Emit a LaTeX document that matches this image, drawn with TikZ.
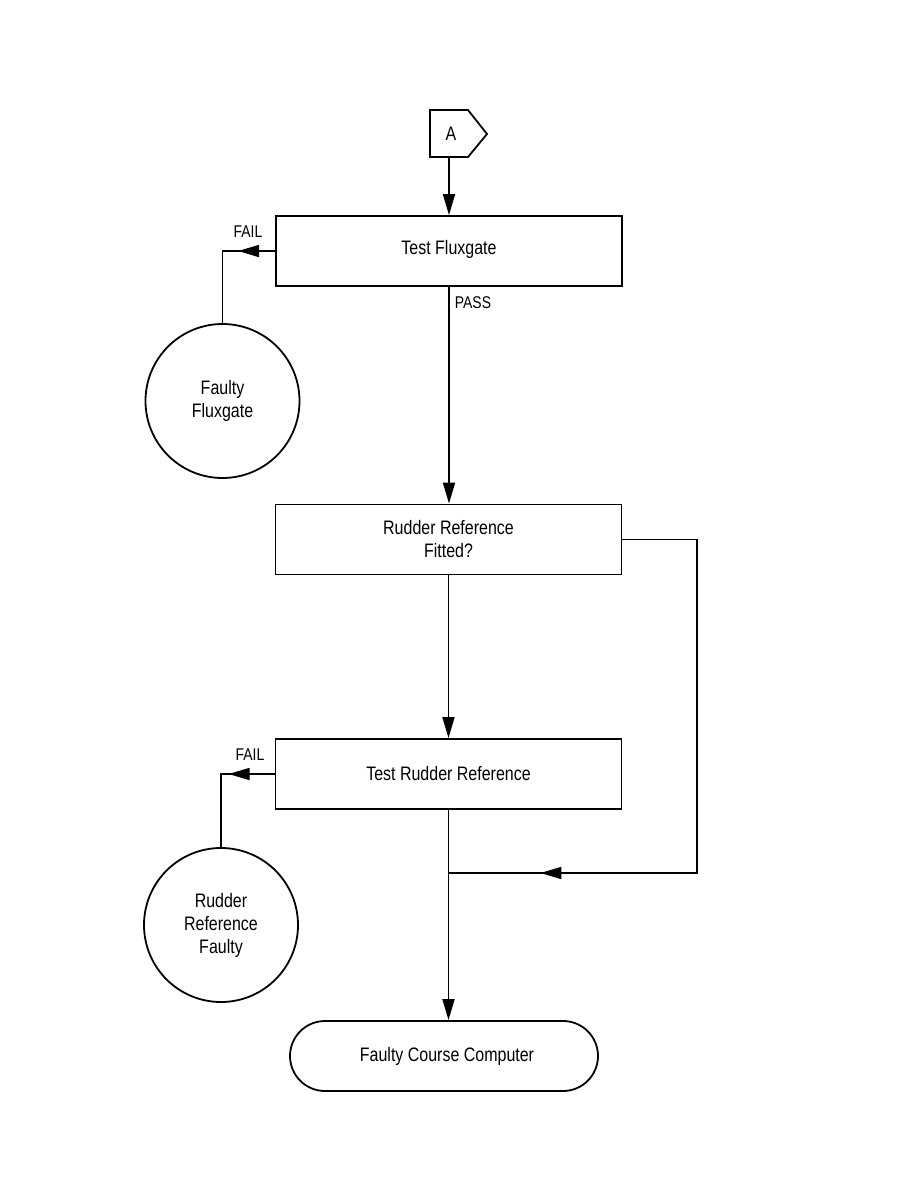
\documentclass[tikz,border=0pt]{standalone}
\usepackage{fontspec}
\setmainfont{Liberation Sans}[FakeStretch=0.82]
\usetikzlibrary{arrows.meta,decorations.markings,calc}
\begin{document}
\begin{tikzpicture}[x=1pt,y=-1pt,
  line width=1.8pt,
  every node/.style={font=\fontsize{19.5}{23}\selectfont},
  tip/.style={-{Triangle[length=21pt,width=12pt]}},
  box/.style={draw,rectangle,minimum width=346pt,minimum height=70pt,align=center,inner sep=0pt},
  endcircle/.style={draw,circle,minimum size=154pt,align=center,inner sep=0pt},
  term/.style={draw,rectangle,rounded corners=35pt,minimum width=308pt,minimum height=70pt,inner sep=0pt},
  lbl/.style={font=\fontsize{17}{18}\selectfont,inner sep=0pt},
  midarrow/.style={postaction={decorate},decoration={markings,mark=at position #1 with {\arrow{Triangle[length=21pt,width=12pt]}}}}
]
\useasboundingbox (0,0) rectangle (918,1188);

% off-page connector A
\node[inner sep=0pt] (a) at (451,134) {A};
\draw (430,110) -- (468,110) -- (487,134) -- (468,157) -- (430,157) -- cycle;
\coordinate (abot) at (449,157);

\node[box] (tf) at (449,251) {\raisebox{8pt}{Test Fluxgate}};
\node[endcircle] (ff) at (222.5,401) {Faulty\\Fluxgate};
\node[box] (rf) at (448.5,539.5) {Rudder Reference\\Fitted?};
\node[box] (tr) at (448.5,774) {Test Rudder Reference};
\node[endcircle] (rr) at (221,925) {Rudder\\Reference\\Faulty};
\node[term] (fc) at (444,1056) {\hspace*{6pt}Faulty Course Computer};

\coordinate (rc) at (697,873);
\coordinate (m) at (tr.south |- rc);

\draw[tip] (abot) -- (abot |- tf.north);
\draw[midarrow=37pt] (tf.west) -- (tf.west -| ff.north) -- (ff.north);
\node[lbl] (fail1) at (248,232) {FAIL};
\draw[tip] (tf.south) -- (tf.south |- rf.north);
\node[lbl] (pass) at (473,303) {PASS};
\draw[tip] (rf.south) -- (rf.south |- tr.north);
\draw[midarrow=46pt] (tr.west) -- (tr.west -| rr.north) -- (rr.north);
\node[lbl] (fail2) at (250,755) {FAIL};
\draw[tip] (tr.south) -- (tr.south |- fc.north);
\draw[midarrow={0.86}] (rf.east) -| (rc) -- (m);
\end{tikzpicture}
\end{document}
